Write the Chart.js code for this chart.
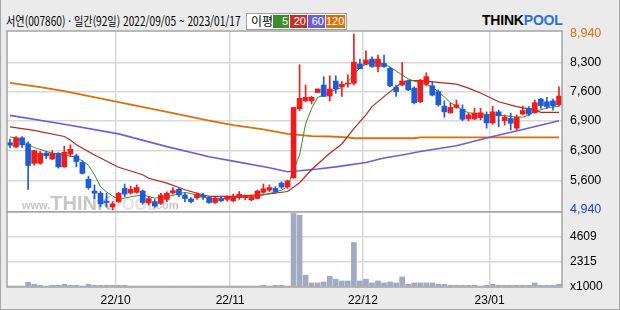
<!DOCTYPE html>
<html lang="ko">
<head>
<meta charset="utf-8">
<script src="https://cdn.jsdelivr.net/npm/chart.js@4.4.1/dist/chart.umd.min.js"></script>
<style>
  html, body { margin: 0; padding: 0; }
  body { width: 620px; height: 310px; background: #ebebeb; position: relative; overflow: hidden; font-family: "Noto Sans CJK KR", sans-serif; }
  canvas { position: absolute; left: 0; top: 0; }
  #frame { position: absolute; left: 0; top: 0; width: 620px; height: 310px; box-sizing: border-box; border: 1px solid #a8a8a8; border-top: none; pointer-events: none; }
  #title { position: absolute; left: 6px; top: 12px; font-size: 12.5px; line-height: 18px; color: #000; white-space: nowrap; transform-origin: 0 50%; }
  #legend { position: absolute; left: 246px; top: 13px; width: 99px; height: 15px; border: 1px solid #a0a0a0; background: #fff; }
  #legend .lbl { position: absolute; left: 4px; top: -2px; font-size: 12px; line-height: 18px; }
  #legend .box { position: absolute; top: 1px; height: 13px; color: #fff; font: 11px "Liberation Sans", sans-serif; line-height: 13px; text-align: right; padding-right: 1px; box-sizing: border-box; }
  #logo { position: absolute; left: 482px; top: 12px; font: bold 14px "Liberation Sans", sans-serif; letter-spacing: -0.2px; white-space: nowrap; }
  #logo .p { color: #2e6fd8; }
</style>
</head>
<body>
<div id="title">서연(007860) · 일간(92일) 2022/09/05 ~ 2023/01/17</div>
<div id="legend">
  <span class="lbl">이평</span>
  <span class="box" style="left:26px;width:16px;background:#3d8b2a">5</span>
  <span class="box" style="left:43px;width:17px;background:#c4302b">20</span>
  <span class="box" style="left:61px;width:17px;background:#6a5fd8">60</span>
  <span class="box" style="left:79px;width:19px;background:#d9700a">120</span>
</div>
<div id="logo">THINK<span class="p">POOL</span></div>
<canvas id="price" width="620" height="310"></canvas>
<canvas id="volume" width="620" height="310"></canvas>
<div id="frame"></div>
<script>
const RED = "#f01c1c";
const BLUE = "#1f5bd8";

// daily candles, 2022/09/05 .. 2023/01/17 (92 trading days)
const opens = [
  6470, 6370, 6580, 6440, 6000, 6000, 6230, 6100, 6230, 5920,
  6210, 6170, 6020, 5640, 5370, 5320, 5140, 5010, 5130, 5430,
  5330, 5340, 5370, 5100, 5130, 5090, 5180, 5330, 5410, 5280,
  5190, 5220, 5270, 5220, 5110, 5200, 5180, 5150, 5220, 5220,
  5170, 5200, 5340, 5390, 5430, 5550, 5470, 5670, 7240, 7420,
  7420, 7610, 7780, 7530, 7870, 7740, 7800, 7820, 8260, 8250,
  8370, 8200, 8270, 8160, 7730, 7780, 7870, 7710, 7400, 7800,
  7760, 7630, 7300, 7150, 7270, 7230, 7010, 7010, 7040, 7100,
  6920, 7170, 6970, 7020, 6800, 7120, 7250, 7150, 7460, 7400,
  7420, 7330
];
const highs = [
  6550, 6610, 6610, 6490, 6300, 6270, 6270, 6290, 6240, 6390,
  6420, 6210, 6060, 5710, 5510, 5360, 5320, 5130, 5340, 5530,
  5480, 5510, 5390, 5250, 5180, 5320, 5350, 5450, 5430, 5320,
  5220, 5330, 5320, 5230, 5230, 5240, 5260, 5300, 5360, 5280,
  5280, 5390, 5530, 5510, 5470, 5580, 5620, 7270, 8240, 7780,
  7520, 7690, 7970, 7990, 7990, 7860, 8010, 8940, 8370, 8560,
  8420, 8460, 8460, 8180, 7780, 8290, 7890, 7740, 7910, 8060,
  7860, 7670, 7420, 7370, 7440, 7330, 7140, 7250, 7250, 7170,
  7300, 7210, 7100, 7140, 7100, 7300, 7290, 7440, 7480, 7500,
  7460, 7740
];
const lows = [
  6350, 6360, 6360, 5410, 5960, 5980, 6110, 6080, 5890, 5910,
  6150, 5920, 5760, 5410, 5200, 5010, 5010, 4940, 5110, 5240,
  5300, 5320, 5070, 5050, 5000, 5070, 5130, 5300, 5240, 5130,
  5100, 5180, 5180, 5090, 5090, 5130, 5140, 5130, 5180, 5170,
  5150, 5190, 5320, 5360, 5320, 5430, 5430, 5660, 7200, 7400,
  7350, 7610, 7520, 7420, 7590, 7520, 7730, 7780, 8150, 8240,
  8180, 8080, 8180, 7740, 7520, 7760, 7650, 7350, 7380, 7760,
  7530, 7300, 7050, 7140, 7250, 6970, 6970, 6990, 6990, 6800,
  6890, 6830, 6870, 6760, 6760, 7100, 7080, 7140, 7250, 7250,
  7210, 7300
];
const closes = [
  6410, 6580, 6420, 5950, 6290, 6230, 6170, 6230, 5920, 6250,
  6320, 6040, 5770, 5450, 5320, 5080, 5110, 5080, 5320, 5300,
  5410, 5450, 5110, 5200, 5030, 5280, 5320, 5380, 5280, 5200,
  5130, 5300, 5230, 5110, 5200, 5150, 5230, 5240, 5300, 5260,
  5240, 5370, 5420, 5450, 5360, 5460, 5600, 7270, 7480, 7500,
  7500, 7690, 7520, 7690, 7690, 7800, 7820, 8300, 8150, 8350,
  8200, 8370, 8200, 7760, 7630, 7870, 7670, 7380, 7880, 7970,
  7550, 7330, 7170, 7270, 7330, 7000, 7100, 7140, 7150, 6920,
  7170, 7080, 7050, 6910, 7050, 7200, 7120, 7380, 7310, 7290,
  7310, 7530
];
// volume in thousands of shares
const volumes = [
  90, 90, 90, 430, 250, 155, 90, 155, 155, 250,
  155, 155, 90, 250, 155, 155, 155, 155, 155, 155,
  90, 90, 90, 90, 90, 90, 90, 90, 90, 90,
  90, 90, 90, 90, 90, 90, 90, 90, 90, 90,
  90, 90, 155, 90, 155, 155, 90, 6690, 6530, 1075,
  370, 370, 460, 985, 710, 550, 550, 4050, 550, 710,
  370, 550, 370, 460, 370, 920, 250, 370, 370, 370,
  370, 250, 250, 155, 155, 155, 155, 155, 90, 155,
  250, 155, 155, 155, 155, 155, 155, 370, 155, 155,
  155, 250
];

// moving averages: [day index, value]
const ma5 = [
  [0, 6600], [1, 6580], [4, 6360], [7, 6230], [9, 6190], [11, 6140], [13, 5960], [14, 5740],
  [15, 5470], [16, 5350], [17, 5260], [18, 5180], [19, 5210], [20, 5240], [22, 5280], [24, 5210],
  [26, 5240], [29, 5340], [31, 5280], [33, 5205], [36, 5205], [38, 5240], [41, 5240], [42, 5280],
  [44, 5350], [45, 5390], [46, 5470], [47, 5850], [48, 6190], [49, 6900], [50, 7250], [51, 7500],
  [52, 7550], [53, 7610], [54, 7680], [55, 7720], [56, 7850], [57, 8010], [58, 8170], [59, 8260],
  [60, 8290], [61, 8310], [62, 8260], [63, 8190], [64, 8100], [65, 8010], [66, 7920], [67, 7870],
  [68, 7830], [69, 7790], [70, 7740], [71, 7620], [72, 7510], [73, 7380], [74, 7300], [75, 7210],
  [76, 7150], [78, 7120], [81, 7100], [84, 7050], [85, 7050], [86, 7100], [87, 7180], [88, 7220],
  [89, 7260], [90, 7280], [91, 7300]
];
const ma20 = [
  [0, 6830], [4, 6750], [5, 6720], [9, 6610], [10, 6530], [11, 6420], [14, 6190], [18, 5910],
  [22, 5740], [23, 5660], [26, 5550], [28, 5450], [29, 5400], [31, 5320], [33, 5250], [37, 5250],
  [42, 5290], [46, 5360], [48, 5560], [50, 5860], [53, 6230], [55, 6440], [57, 6790], [59, 7100],
  [60, 7290], [63, 7630], [65, 7840], [66, 7880], [68, 7880], [71, 7840], [74, 7800], [76, 7710],
  [78, 7600], [81, 7400], [84, 7290], [87, 7210], [88, 7160], [91, 7160]
];
const ma60 = [
  [0, 7090], [9, 6890], [18, 6670], [26, 6380], [33, 6150], [37, 6050], [43, 5900], [46, 5810],
  [48, 5830], [51, 5870], [54, 5920], [56, 5960], [59, 6020], [62, 6120], [65, 6190], [68, 6270],
  [74, 6400], [80, 6610], [85, 6770], [91, 6970]
];
const ma120 = [
  [0, 7830], [5, 7730], [9, 7640], [18, 7390], [26, 7170], [33, 6970], [37, 6870], [42, 6770],
  [46, 6670], [50, 6620], [53, 6610], [56, 6590], [57, 6570], [67, 6570], [68, 6590], [91, 6590]
];

const monthStarts = [18, 37, 59, 80];
const monthLabels = ["22/10", "22/11", "22/12", "23/01"];
const priceTicks = [8940, 8281, 7622, 6962, 6281, 5599, 4940];
const priceLabels = ["8,940", "8,300", "7,600", "6,900", "6,300", "5,600", "4,940"];
const volumeTicks = [0, 2315, 4609];
const volumeLabels = ["x1000", "2315", "4609"];

const GRID = "#d9d9d9";
const candleColor = ctx => closes[ctx.dataIndex] >= opens[ctx.dataIndex] ? RED : BLUE;
const toPoints = pairs => pairs.map(p => ({ x: p[0] + 0.5, y: p[1] }));

// squeeze the header title into the width it has in the original
const title = document.getElementById("title");
title.style.transform = "scaleX(" + (235 / title.offsetWidth) + ")";

const panel = {
  id: "panel",
  beforeDraw(chart) {
    const { ctx, chartArea: a } = chart;
    ctx.save();
    ctx.fillStyle = "#fff";
    ctx.fillRect(a.left, a.top, a.width, a.height);
    ctx.restore();
  },
  afterDraw(chart) {
    const { ctx, chartArea: a } = chart;
    ctx.save();
    ctx.strokeStyle = "#a4a4a4";
    ctx.lineWidth = 1.5;
    ctx.strokeRect(a.left, a.top, a.width, a.height);
    ctx.restore();
  }
};

const watermark = {
  id: "watermark",
  beforeDatasetsDraw(chart) {
    const { ctx, chartArea: a } = chart;
    let x = a.left + 15;
    const y = a.bottom - 3;
    ctx.save();
    ctx.fillStyle = "#c6c6c6";
    ctx.font = "bold 11px 'Liberation Sans'";
    ctx.fillText("www.", x, y);
    x += ctx.measureText("www.").width;
    ctx.font = "bold 20px 'Liberation Sans'";
    ctx.fillText("THINK", x, y + 1);
    x += ctx.measureText("THINK").width;
    ctx.fillStyle = "#e4e4e4";
    ctx.font = "bold 16px 'Liberation Sans'";
    ctx.fillText("POOL", x, y + 1);
    x += ctx.measureText("POOL").width - 4;
    ctx.fillStyle = "#c6c6c6";
    ctx.font = "bold 11px 'Liberation Sans'";
    ctx.fillText(".com", x, y);
    ctx.restore();
  }
};

const xAxis = showLabels => ({
  type: "linear",
  min: 0,
  max: 92,
  offset: false,
  afterBuildTicks: s => { s.ticks = monthStarts.map(v => ({ value: v })); },
  afterFit: s => { s.height = showLabels ? 23 : 0; },
  grid: { color: GRID, lineWidth: 1.5, drawTicks: false, offset: false },
  border: { display: false },
  ticks: {
    display: showLabels,
    autoSkip: false,
    maxRotation: 0,
    padding: 6,
    color: "#000",
    font: { family: "Liberation Sans", size: 12 },
    callback: (v, i) => monthLabels[i]
  }
});

new Chart(document.getElementById("price"), {
  type: "bar",
  data: {
    datasets: [
      {
        label: "body",
        data: opens.map((o, i) => ({ x: i + 0.5, y: [o, closes[i]] })),
        backgroundColor: candleColor,
        barThickness: 5,
        minBarLength: 1,
        grouped: false,
        order: 0
      },
      {
        label: "wick",
        data: lows.map((l, i) => ({ x: i + 0.5, y: [l, highs[i]] })),
        backgroundColor: candleColor,
        barThickness: 1,
        grouped: false,
        order: 1
      },
      { type: "line", label: "5", data: toPoints(ma5), borderColor: "#3d8b2a", borderWidth: 1, pointRadius: 0, order: 2 },
      { type: "line", label: "20", data: toPoints(ma20), borderColor: "#b8261f", borderWidth: 1.2, pointRadius: 0, order: 3 },
      { type: "line", label: "60", data: toPoints(ma60), borderColor: "#6a5fd8", borderWidth: 1.6, pointRadius: 0, order: 4 },
      { type: "line", label: "120", data: toPoints(ma120), borderColor: "#d9700a", borderWidth: 1.8, pointRadius: 0, order: 5 }
    ]
  },
  options: {
    responsive: false,
    animation: false,
    devicePixelRatio: 1,
    layout: { padding: { left: 7, top: 31, right: 0, bottom: 98 } },
    plugins: { legend: { display: false }, tooltip: { enabled: false } },
    scales: {
      x: xAxis(false),
      y: {
        position: "right",
        min: 4894,
        max: 9008,
        afterFit: s => { s.width = 58; },
        afterBuildTicks: s => { s.ticks = priceTicks.map(v => ({ value: v })); },
        grid: {
          color: ctx => (ctx.index === 0 || ctx.index === priceTicks.length - 1) ? "rgba(0,0,0,0)" : GRID,
          lineWidth: 1.5,
          drawTicks: false
        },
        border: { display: false },
        ticks: {
          autoSkip: false,
          padding: 8,
          font: { family: "Liberation Sans", size: 12.5 },
          color: ctx => ctx.index === 0 ? "#d9700a" : (ctx.index === priceTicks.length - 1 ? "#1f3fd0" : "#000"),
          callback: (v, i) => priceLabels[i]
        }
      }
    }
  },
  plugins: [panel, watermark]
});

new Chart(document.getElementById("volume"), {
  type: "bar",
  data: {
    datasets: [{
      label: "volume",
      data: volumes.map((v, i) => ({ x: i + 0.5, y: v })),
      backgroundColor: "#a2aac1",
      barThickness: 5
    }]
  },
  options: {
    responsive: false,
    animation: false,
    devicePixelRatio: 1,
    layout: { padding: { left: 7, top: 212, right: 0, bottom: 0 } },
    plugins: { legend: { display: false }, tooltip: { enabled: false } },
    scales: {
      x: xAxis(true),
      y: {
        position: "right",
        min: 0,
        max: 6821,
        afterFit: s => { s.width = 58; },
        afterBuildTicks: s => { s.ticks = volumeTicks.map(v => ({ value: v })); },
        grid: {
          color: ctx => ctx.index === 0 ? "rgba(0,0,0,0)" : GRID,
          lineWidth: 1.5,
          drawTicks: false
        },
        border: { display: false },
        ticks: {
          autoSkip: false,
          padding: 8,
          color: "#000",
          font: { family: "Liberation Sans", size: 12 },
          callback: (v, i) => volumeLabels[i]
        }
      }
    }
  },
  plugins: [panel]
});
</script>
</body>
</html>
